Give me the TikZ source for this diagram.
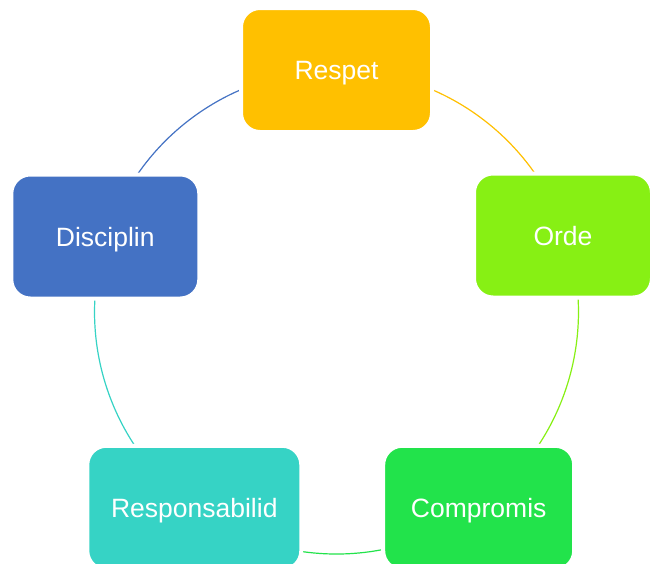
\documentclass[tikz,border=0pt]{standalone}
\usepackage{fontspec}
\setmainfont{Liberation Sans}
\usetikzlibrary{backgrounds}
\definecolor{cRespet}{HTML}{FFC000}
\definecolor{cOrde}{HTML}{87F014}
\definecolor{cComp}{HTML}{22E34B}
\definecolor{cResp}{HTML}{36D3C5}
\definecolor{cDisc}{HTML}{4472C4}
\begin{document}
\begin{tikzpicture}[x=1pt,y=1pt,
  box/.style={rounded corners=19pt, draw=white, line width=4pt, text=white,
    font=\fontsize{26.5}{30}\selectfont, text height=19pt, text depth=0pt,
    inner sep=0pt, minimum height=124pt},
  link/.style={line width=1.2pt}]
\useasboundingbox (0,0) rectangle (651,-563);
\node[box, fill=cRespet, minimum width=191pt] (respet) at (336.5,-70) {Respet};
\node[box, fill=cOrde, minimum width=178pt] (orde) at (563,-235.5) {Orde};
\node[box, fill=cComp, minimum width=191pt] (comp) at (478.7,-507.8) {Compromis};
\node[box, fill=cResp, minimum width=214pt] (resp) at (194.3,-507.8) {Responsabilid};
\node[box, fill=cDisc, minimum width=188pt] (disc) at (105.3,-236.5) {Disciplin};
\begin{scope}[on background layer]
\fill[white] (0,0) rectangle (651,-563);
\draw[link, cRespet] (respet.center) arc[start angle=90, end angle=18, radius=242];
\draw[link, cOrde] (comp.center) arc[start angle=306, end angle=378, radius=242];
\draw[link, cComp] (comp.center) arc[start angle=306, end angle=234, radius=242];
\draw[link, cResp] (resp.center) arc[start angle=234, end angle=162, radius=242];
\draw[link, cDisc] (respet.center) arc[start angle=90, end angle=162, radius=242];
\end{scope}
\end{tikzpicture}
\end{document}
